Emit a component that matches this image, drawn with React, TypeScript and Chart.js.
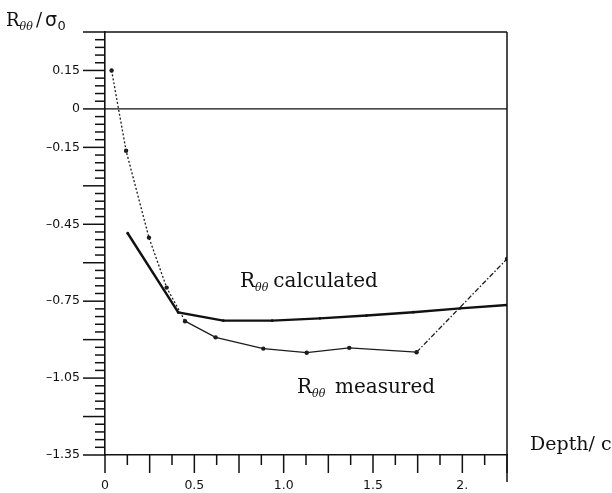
import React, { useEffect, useRef } from "react";
import { Chart, registerables } from "chart.js";

Chart.register(...registerables);

// Measured R_theta_theta / sigma_0 versus depth / c
const depthMeasured = [0.037, 0.118, 0.246, 0.345, 0.448, 0.619, 0.886, 1.129, 1.367, 1.744, 2.25];
const rMeasured = [0.15, -0.163, -0.502, -0.697, -0.828, -0.891, -0.935, -0.951, -0.932, -0.949, -0.585];

// Calculated R_theta_theta / sigma_0 versus depth / c
const depthCalculated = [0.127, 0.41, 0.662, 0.936, 1.203, 1.464, 1.725, 1.987, 2.25];
const rCalculated = [-0.485, -0.794, -0.826, -0.826, -0.817, -0.806, -0.793, -0.778, -0.765];

// Tick labels
const yLabelValues = [0.15, 0, -0.15, -0.45, -0.75, -1.05, -1.35];
const yLabelTexts = ["0.15", "0", "–0.15", "–0.45", "–0.75", "–1.05", "–1.35"];
const xLabelValues = [0, 0.5, 1, 1.5, 2];
const xLabelTexts = ["0", "0.5", "1.0", "1.5", "2."];

const near = (a: number, b: number) => Math.abs(a - b) < 1e-6;
const isMultiple = (v: number, step: number) => Math.abs(v / step - Math.round(v / step)) < 1e-6;

const INK = "#111";

function line(ctx: CanvasRenderingContext2D, x1: number, y1: number, x2: number, y2: number) {
  ctx.beginPath();
  ctx.moveTo(x1, y1);
  ctx.lineTo(x2, y2);
  ctx.stroke();
}

function drawRtt(ctx: CanvasRenderingContext2D, x: number, baseline: number, size: number, subSize: number, subDrop: number) {
  ctx.font = `${size}px "DejaVu Serif"`;
  ctx.fillText("R", x, baseline);
  const w = ctx.measureText("R").width;
  ctx.font = `italic ${subSize}px "DejaVu Serif"`;
  ctx.fillText("θθ", x + w, baseline + subDrop);
  return x + w + ctx.measureText("θθ").width;
}

const overlay = {
  id: "overlay",
  afterDraw(chart: any) {
    const { ctx, chartArea: a } = chart;
    const x = chart.scales.x;
    const y = chart.scales.y;
    ctx.save();
    ctx.strokeStyle = INK;
    ctx.lineWidth = 1.5;
    // y tick marks (pointing left)
    y.ticks.forEach((t: any) => {
      const py = y.getPixelForValue(t.value);
      const len = isMultiple(t.value, 0.15) ? 22 : 10;
      line(ctx, a.left - len, py, a.left, py);
    });
    // x tick marks (pointing down)
    x.ticks.forEach((t: any) => {
      const px = x.getPixelForValue(t.value);
      const len = isMultiple(t.value, 0.25) ? 18 : 10;
      line(ctx, px, a.bottom, px, a.bottom + len);
    });
    // frame: top and right
    line(ctx, a.left, a.top, a.right, a.top);
    line(ctx, a.right, a.top, a.right, a.bottom + 27);
    // zero line
    ctx.lineWidth = 1.1;
    const y0 = y.getPixelForValue(0);
    line(ctx, a.left, y0, a.right, y0);

    // annotations
    ctx.fillStyle = INK;
    ctx.textAlign = "left";
    ctx.textBaseline = "alphabetic";
    let end = drawRtt(ctx, 240, 286.5, 20, 11, 4);
    ctx.font = '20px "DejaVu Serif"';
    ctx.fillText("calculated", Math.max(273, end + 5), 286.5);

    end = drawRtt(ctx, 297, 392.5, 20, 11, 4);
    ctx.font = '20px "DejaVu Serif"';
    ctx.fillText("measured", Math.max(335, end + 5), 392.5);

    ctx.font = '19px "DejaVu Serif"';
    ctx.fillText("Depth/ c", 530, 450);

    // y-axis title
    end = drawRtt(ctx, 6, 25.5, 18, 11, 4);
    ctx.font = '18px "DejaVu Serif"';
    ctx.fillText("/", Math.max(36, end + 1), 25.5);
    ctx.font = '19px "DejaVu Sans"';
    ctx.fillText("σ", 45, 25.5);
    ctx.font = '13px "DejaVu Sans"';
    ctx.fillText("0", 57.5, 30);
    ctx.restore();
  },
};

export default function App() {
  const ref = useRef<HTMLCanvasElement>(null);
  useEffect(() => {
    const canvas = ref.current;
    if (!canvas) return;
    const chart = new Chart(canvas, {
      type: "line",
      data: {
        datasets: [
          {
            label: "Rθθ measured",
            data: depthMeasured.map((d, i) => ({ x: d, y: rMeasured[i] })),
            borderColor: "#1c1c1c",
            backgroundColor: "#1c1c1c",
            borderWidth: 1.3,
            pointRadius: 2.2,
            pointBorderWidth: 0,
            tension: 0,
            segment: {
              borderDash: (c: any) =>
                c.p0DataIndex < 4 ? [2, 2] : c.p0DataIndex >= 9 ? [5, 2, 1.5, 2] : undefined,
            },
          },
          {
            label: "Rθθ calculated",
            data: depthCalculated.map((d, i) => ({ x: d, y: rCalculated[i] })),
            borderColor: INK,
            backgroundColor: INK,
            borderWidth: 2.4,
            pointRadius: 1.4,
            pointBorderWidth: 0,
            tension: 0,
          },
        ],
      },
      options: {
        responsive: false,
        animation: false,
        layout: { padding: { top: 32, right: 105, left: 0, bottom: 0 } },
        plugins: { legend: { display: false }, tooltip: { enabled: false } },
        scales: {
          x: {
            type: "linear",
            min: 0,
            max: 2.25,
            ticks: {
              stepSize: 0.125,
              autoSkip: false,
              maxRotation: 0,
              padding: 5,
              color: INK,
              font: { family: "DejaVu Sans", size: 12.5 },
              callback: (v: any) => {
                const i = xLabelValues.findIndex((lv) => near(lv, Number(v)));
                return i >= 0 ? xLabelTexts[i] : "";
              },
            },
            grid: { drawOnChartArea: false, tickLength: 18, tickColor: "rgba(0,0,0,0)" },
            border: { color: INK, width: 1.6 },
            afterFit: (s: any) => {
              s.height = 38;
            },
          },
          y: {
            type: "linear",
            min: -1.35,
            max: 0.3,
            ticks: {
              stepSize: 0.03,
              autoSkip: false,
              padding: 3,
              color: INK,
              font: { family: "DejaVu Sans", size: 12.5 },
              callback: (v: any) => {
                const i = yLabelValues.findIndex((lv) => near(lv, Number(v)));
                return i >= 0 ? yLabelTexts[i] : "";
              },
            },
            grid: { drawOnChartArea: false, tickLength: 22, tickColor: "rgba(0,0,0,0)" },
            border: { color: INK, width: 1.6 },
            afterFit: (s: any) => {
              s.width = 105;
            },
          },
        },
      },
      plugins: [overlay],
    });
    return () => chart.destroy();
  }, []);

  return (
    <div style={{ position: "fixed", left: 0, top: 0, width: 612, height: 493, background: "#fff" }}>
      <canvas ref={ref} width={612} height={493} style={{ display: "block" }} />
    </div>
  );
}
